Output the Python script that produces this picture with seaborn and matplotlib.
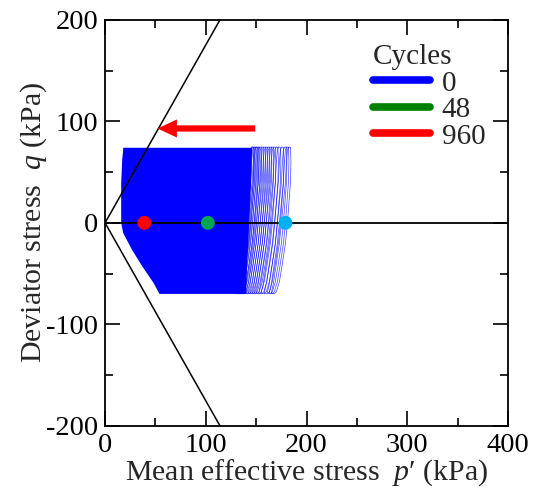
import numpy as np
import pandas as pd
import matplotlib
matplotlib.use("Agg")
import matplotlib.pyplot as plt
from matplotlib.lines import Line2D
from matplotlib.ticker import MultipleLocator
import seaborn as sns

# ---- data ----
# critical state lines (p', q)
csl_comp_p = [0, 114]
csl_comp_q = [0, 200]
csl_ext_p = [0, 114]
csl_ext_q = [0, -200]

# densely overlapping loops: outline of filled region (p', q)
dense_p = [18, 146, 145, 143, 141, 140, 54, 48, 37, 27, 18, 16, 16, 16, 17, 18]
dense_q = [74, 74, 40, 0, -40, -70, -70, -59, -43, -27, -10, 0, 20, 39, 62, 72]

# separate loops at the right edge: p' at loop top
loop_top_p = [147, 148, 149.5, 151, 152, 153.5, 155, 157, 159, 161, 163, 165,
              167, 169, 171.5, 174, 177, 180, 182, 184]
# loop shape: offset in p' from the loop top, and q
loop_dp = [0, 0.5, 0, -1.5, -3, -5, -8, -11, -14, -16, -19, -17, -14, -11, -9,
           -7, -5, -4, -3, -1.5, 0]
loop_q = [74, 60, 40, 20, 0, -20, -40, -58, -68, -70, -69, -60, -40, -20, 0,
          20, 40, 60, 72, 75, 74]

# state markers at q = 0
cycles = ["0", "48", "960"]
marker_p = [179, 102, 39]
marker_q = [0, 0, 0]

# arrow (p', q)
arrow_from = (149, 93)
arrow_to = (52, 93)

# ---- styling ----
sns.set_theme(style="ticks")
plt.rcParams["font.family"] = ["Liberation Serif", "DejaVu Serif"]
plt.rcParams["mathtext.fontset"] = "custom"
plt.rcParams["mathtext.rm"] = "Liberation Serif"
plt.rcParams["mathtext.it"] = "Liberation Serif:italic"
plt.rcParams["axes.unicode_minus"] = False

fig = plt.figure(figsize=(5.36, 4.98), dpi=100)
ax = fig.add_axes([0.196, 0.145, 0.752, 0.815])

BLUE = "#0000FF"

# dense region
ax.fill(dense_p, dense_q, color=BLUE, lw=0, zorder=2)

# individual loops
rows = []
for i, p0 in enumerate(loop_top_p):
    for dp, q in zip(loop_dp, loop_q):
        rows.append({"loop": i, "p": p0 + dp, "q": q})
loops = pd.DataFrame(rows)
sns.lineplot(data=loops, x="p", y="q", units="loop", estimator=None, sort=False,
             color=BLUE, lw=0.5, alpha=0.75, ax=ax, zorder=3, legend=False)

# critical state lines and zero line
ax.plot(csl_comp_p, csl_comp_q, color="black", lw=1.1, zorder=4)
ax.plot(csl_ext_p, csl_ext_q, color="black", lw=1.1, zorder=4)
ax.axhline(0, color="black", lw=1.3, zorder=4)

# markers
marker_colors = ["#00B0F0", "#00A651", "#FF0000"]
mdf = pd.DataFrame({"p": marker_p, "q": marker_q, "c": cycles})
sns.scatterplot(data=mdf, x="p", y="q", hue="c", palette=marker_colors, s=100,
                edgecolor="none", ax=ax, zorder=6, legend=False)

# arrow
ax.annotate("", xy=arrow_to, xytext=arrow_from,
            arrowprops=dict(facecolor="#FF0000", edgecolor="none", width=4.5,
                            headwidth=13, headlength=14, shrink=0),
            zorder=7)

ax.set_xlim(0, 400)
ax.set_ylim(-200, 200)
ax.xaxis.set_major_locator(MultipleLocator(100))
ax.xaxis.set_minor_locator(MultipleLocator(50))
ax.yaxis.set_major_locator(MultipleLocator(100))
ax.yaxis.set_minor_locator(MultipleLocator(50))
ax.tick_params(which="both", direction="in", top=True, right=True,
               labelsize=20.5, width=1.2, colors="black")
ax.tick_params(axis="y", pad=5)
ax.tick_params(axis="x", pad=5)
ax.tick_params(which="major", length=11)
ax.tick_params(which="minor", length=6)
for s in ax.spines.values():
    s.set_linewidth(1.3)
    s.set_color("black")

ax.set_xlabel("Mean effective stress  $p$\u2032 (kPa)", fontsize=21.5, labelpad=0)
ax.set_ylabel("Deviator stress  $q$ (kPa)", fontsize=21.5, labelpad=-2)

legend_colors = [BLUE, "#008000", "#FF0000"]
handles = [Line2D([0], [0], color=c, lw=5.5, solid_capstyle="round") for c in legend_colors]
leg = ax.legend(handles, cycles, title="Cycles", loc="upper left",
                bbox_to_anchor=(0.665, 0.94), frameon=False, fontsize=21,
                title_fontsize=21, labelspacing=0.0, handlelength=1.95,
                handletextpad=0.4, borderpad=0, borderaxespad=0,
                alignment="left")

fig.savefig("out.png", dpi=100)
